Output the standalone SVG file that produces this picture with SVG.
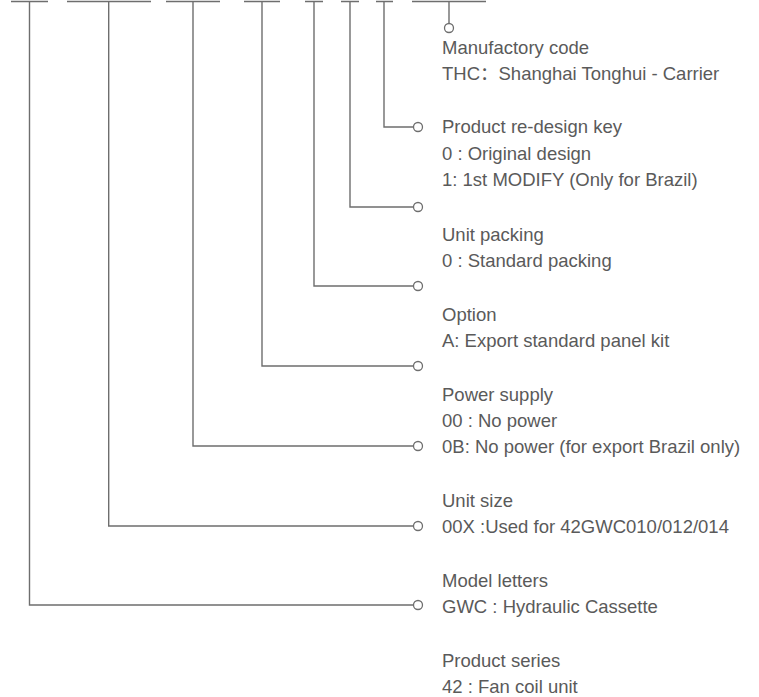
<svg xmlns="http://www.w3.org/2000/svg" width="759" height="697" viewBox="0 0 759 697">
<style>
.ln{fill:none;stroke:#6e6e6e;stroke-width:1.4}
.dot{fill:#ffffff;stroke:#6e6e6e;stroke-width:1.3}
.t{font-family:"Liberation Sans","Noto Sans CJK SC",Arial,sans-serif;font-size:18.5px;fill:#5a5a5a}
</style>
<rect width="759" height="697" fill="#ffffff"/>
<g id="connectors">
<path class="ln" d="M11 1.5H48M29.5 1.5V605H413.5"/>
<path class="ln" d="M67 1.5H151M108.7 1.5V526H413.5"/>
<path class="ln" d="M166 1.5H220M193 1.5V446H413.5"/>
<path class="ln" d="M244 1.5H280M262 1.5V366H413.5"/>
<path class="ln" d="M305 1.5H323M314 1.5V286H413.5"/>
<path class="ln" d="M341 1.5H359M350 1.5V207H413.5"/>
<path class="ln" d="M376 1.5H393M384 1.5V127H413.5"/>
<path class="ln" d="M412 1.5H486M449 1.5V23.5"/>
<circle class="dot" cx="449" cy="28" r="4.5"/>
<circle class="dot" cx="418" cy="127" r="4.5"/>
<circle class="dot" cx="418" cy="207" r="4.5"/>
<circle class="dot" cx="418" cy="286" r="4.5"/>
<circle class="dot" cx="418" cy="366" r="4.5"/>
<circle class="dot" cx="418" cy="446" r="4.5"/>
<circle class="dot" cx="418" cy="526" r="4.5"/>
<circle class="dot" cx="418" cy="605" r="4.5"/>
</g>
<g id="manufactory">
<text class="t" x="442" y="54">Manufactory code</text>
<text class="t" x="442" y="80">THC：Shanghai Tonghui - Carrier</text>
</g>
<g id="redesign">
<text class="t" x="442" y="133">Product re-design key</text>
<text class="t" x="442" y="160">0 : Original design</text>
<text class="t" x="442" y="186">1: 1st MODIFY (Only for Brazil)</text>
</g>
<g id="packing">
<text class="t" x="442" y="241">Unit packing</text>
<text class="t" x="442" y="267">0 : Standard packing</text>
</g>
<g id="option">
<text class="t" x="442" y="321">Option</text>
<text class="t" x="442" y="347">A: Export standard panel kit</text>
</g>
<g id="power">
<text class="t" x="442" y="401">Power supply</text>
<text class="t" x="442" y="427">00 : No power</text>
<text class="t" x="442" y="453">0B: No power (for export Brazil only)</text>
</g>
<g id="size">
<text class="t" x="442" y="507">Unit size</text>
<text class="t" x="442" y="533">00X :Used for 42GWC010/012/014</text>
</g>
<g id="model">
<text class="t" x="442" y="587">Model letters</text>
<text class="t" x="442" y="613">GWC : Hydraulic Cassette</text>
</g>
<g id="series">
<text class="t" x="442" y="667">Product series</text>
<text class="t" x="442" y="693">42 : Fan coil unit</text>
</g>
</svg>
